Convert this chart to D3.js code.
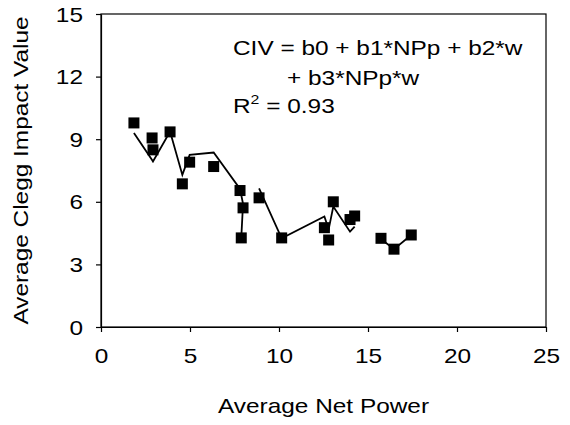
<!DOCTYPE html>
<html>
<head>
<meta charset="utf-8">
<script src="https://cdn.jsdelivr.net/npm/d3@7"></script>
<style>
body { margin: 0; background: #fff; }
text { font-family: "Liberation Sans", Arial, sans-serif; fill: #000; }
</style>
</head>
<body>
<div id="svgWrapper"></div>
<script>
"use strict"
// values
const netPower    = [1.85, 2.87, 2.92, 3.88, 4.57, 4.98, 6.33, 7.81, 7.98, 7.88, 8.88, 10.15, 12.55, 12.79, 13.05, 13.99, 14.25, 15.73, 16.46, 17.43];
const impactValue = [9.78, 9.06, 8.49, 9.35, 6.86, 7.90, 7.69, 6.54, 5.71, 4.27, 6.19, 4.27, 4.76, 4.17, 6.00, 5.15, 5.32, 4.25, 3.73, 4.41];
const fittedValue = [9.30, 8.00, 7.93, 9.37, 7.29, 8.25, 8.36, 6.62, 5.90, 4.27, 6.64, 4.25, 5.30, 4.68, 5.77, 4.57, 4.81, 4.22, 3.73, 4.41];
// the fitted line is broken into separate runs
const fitGroup    = [1, 1, 1, 1, 1, 1, 1, 1, 1, 1, 2, 2, 2, 2, 2, 2, 2, 3, 3, 3];

const xTicks = [0, 5, 10, 15, 20, 25];
const yTicks = [0, 3, 6, 9, 12, 15];
const xTitle = "Average Net Power";
const yTitle = "Average Clegg Impact Value";
const equation = ["CIV = b0 + b1*NPp + b2*w", "+ b3*NPp*w"];
const rSquared = "0.93";

//text in the picture is a bit wider than the font
const stretch = 1.22;
const fontSize = 20;

function placeText(sel, x, y) {
    sel.attr("x", 0).attr("y", 0)
       .attr("transform", "translate(" + x + "," + y + ") scale(" + stretch + ",1)");
    return sel;
}

function drawChart() {
    var fullWidth = 570;
    var fullHeight = 425;
    var left = 101, right = 546, top = 14, bottom = 327;

    const svg = d3.select("#svgWrapper").append("svg")
        .attr("width", fullWidth).attr("height", fullHeight);

    svg.append("rect").attr("width", fullWidth).attr("height", fullHeight).attr("fill", "#fff");

    var xScale = d3.scaleLinear().domain([0, 25]).range([left, right]);
    var yScale = d3.scaleLinear().domain([0, 15]).range([bottom, top]);

    // frame
    svg.append("rect")
        .attr("x", left).attr("y", top)
        .attr("width", right - left).attr("height", bottom - top)
        .attr("fill", "none").attr("stroke", "#000").attr("stroke-width", 1.2);

    var xAxis = d3.axisBottom(xScale).tickValues(xTicks).tickSize(5).tickSizeOuter(0);
    var yAxis = d3.axisLeft(yScale).tickValues(yTicks).tickSize(5).tickSizeOuter(0);

    var gx = svg.append("g").attr("transform", "translate(0," + bottom + ")").call(xAxis);
    var gy = svg.append("g").attr("transform", "translate(" + left + ",0)").call(yAxis);

    [gx, gy].forEach(function(g) {
        g.select(".domain").attr("stroke", "#000").attr("stroke-width", 1.2);
        g.selectAll(".tick line").attr("stroke", "#000").attr("stroke-width", 1.2);
        g.selectAll(".tick text")
            .attr("font-size", fontSize)
            .attr("font-family", "Liberation Sans, Arial, sans-serif")
            .attr("fill", "#000");
    });

    gx.selectAll(".tick text").each(function() {
        placeText(d3.select(this), 0, 36).attr("dy", 0);
    });
    gy.selectAll(".tick text").each(function() {
        placeText(d3.select(this), -18, 0).attr("dy", "0.35em");
    });

    // titles
    placeText(svg.append("text"), (left + right) / 2, 413)
        .attr("text-anchor", "middle").attr("font-size", fontSize).text(xTitle);

    svg.append("text")
        .attr("text-anchor", "middle").attr("font-size", fontSize)
        .attr("transform", "translate(28," + ((top + bottom) / 2) + ") rotate(-90) scale(" + stretch + ",1)")
        .text(yTitle);

    // fitted line runs
    var points = netPower.map(function(x, i) {
        return { x: x, y: impactValue[i], fit: fittedValue[i], group: fitGroup[i] };
    });
    var runs = d3.group(points, function(d) { return d.group; });

    var line = d3.line()
        .x(function(d) { return xScale(d.x); })
        .y(function(d) { return yScale(d.fit); });

    svg.append("g").selectAll("path")
        .data(Array.from(runs.values()))
        .enter()
        .append("path")
            .attr("fill", "none")
            .attr("stroke", "#000")
            .attr("stroke-width", 1.8)
            .attr("stroke-linejoin", "miter")
            .attr("d", line);

    // square markers
    var size = 11;
    svg.append("g").selectAll("rect")
        .data(points)
        .enter()
        .append("rect")
            .attr("x", function(d) { return xScale(d.x) - size / 2; })
            .attr("y", function(d) { return yScale(d.y) - size / 2; })
            .attr("width", size).attr("height", size)
            .attr("fill", "#000");

    // equation text
    placeText(svg.append("text"), 233, 55)
        .attr("font-size", fontSize).text(equation[0]);
    placeText(svg.append("text"), 287, 85)
        .attr("font-size", fontSize).text(equation[1]);

    var r2 = placeText(svg.append("text"), 233, 113).attr("font-size", fontSize);
    r2.append("tspan").text("R");
    r2.append("tspan").attr("font-size", 13).attr("dy", -9).text("2");
    r2.append("tspan").attr("dy", 9).text(" = " + rSquared);
}

drawChart();
</script>
</body>
</html>
